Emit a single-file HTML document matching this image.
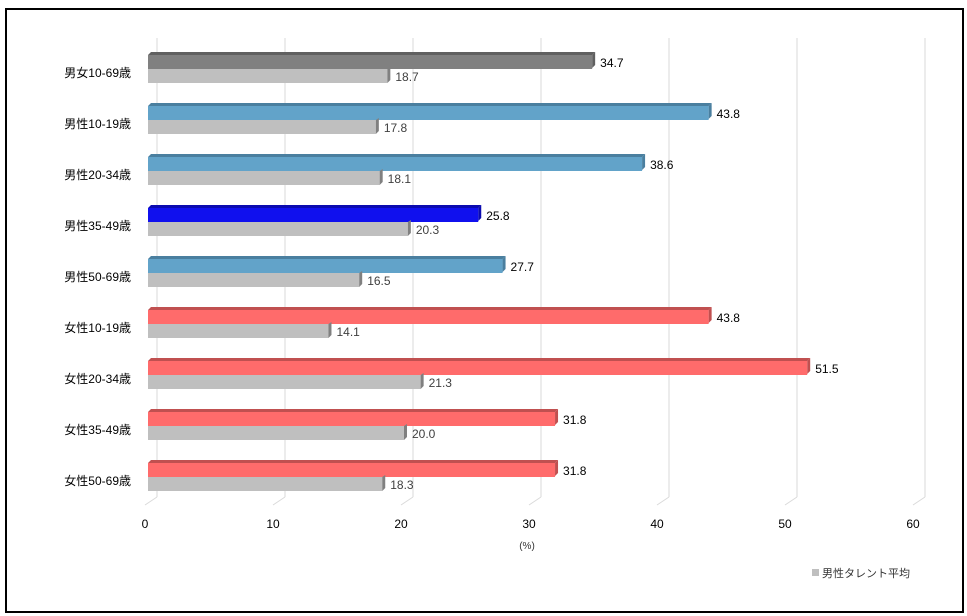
<!DOCTYPE html>
<html><head><meta charset="utf-8"><style>
body{margin:0;background:#fff;font-family:"Liberation Sans","Noto Sans CJK JP",sans-serif;}
#frame{position:absolute;left:5px;top:8px;width:955px;height:601px;border:2px solid #000;box-sizing:content-box;}
</style></head><body>
<div id="frame"></div>
<svg id="chart" width="967" height="616" style="position:absolute;left:0;top:0"></svg>
<script>
const categories=["男女10-69歳","男性10-19歳","男性20-34歳","男性35-49歳","男性50-69歳","女性10-19歳","女性20-34歳","女性35-49歳","女性50-69歳"];
const mainValues=[34.7,43.8,38.6,25.8,27.7,43.8,51.5,31.8,31.8];
const avgValues=[18.7,17.8,18.1,20.3,16.5,14.1,21.3,20.0,18.3];
const mainColors=["#808080","#62a3c9","#62a3c9","#1010ee","#62a3c9","#ff6b6b","#ff6b6b","#ff6b6b","#ff6b6b"];
const capColors=["#606060","#4a7f9f","#4a7f9f","#0a0ab0","#4a7f9f","#c05050","#c05050","#c05050","#c05050"];
const ticks=[0,10,20,30,40,50,60];
const NS="http://www.w3.org/2000/svg";
const svg=document.getElementById('chart');
const x=v=>148+v*12.8;
const rowY=i=>52+i*51;
function mk(t,a,p){const e=document.createElementNS(NS,t);for(const k in a)e.setAttribute(k,a[k]);(p||svg).appendChild(e);return e;}
ticks.forEach(t=>{
 const g=mk('line',{x1:x(t)+9,x2:x(t)+9,y1:38,y2:497,stroke:'#d9d9d9','stroke-width':1});
 
 
 const d=mk('line',{x1:x(t)+9,x2:x(t)-3,y1:497,y2:505,stroke:'#d9d9d9'});
 
 
 const l=mk('text',{x:x(t)-3,y:528,'font-size':12,'text-anchor':'middle',fill:'#000'});
 l.textContent=t;
 
 
});
const xt=mk('text',{x:527,y:549,'font-size':10,'text-anchor':'middle',fill:'#333'});
xt.textContent='(%)';


categories.forEach((c,i)=>{
 const y=rowY(i);
 const cl=mk('text',{x:131,y:y+25,'font-size':12,'text-anchor':'end',fill:'#000'});
 cl.textContent=c;
 
 
 const w=x(mainValues[i])-x(0);
 const cap=mk('polygon',{points:`${x(0)},${y+3} ${x(0)+3},${y} ${x(0)+w+3},${y} ${x(0)+w},${y+3}`,fill:capColors[i]});
 
 
 const side=mk('polygon',{points:`${x(0)+w},${y+3} ${x(0)+w+3},${y} ${x(0)+w+3},${y+13} ${x(0)+w},${y+16}`,fill:capColors[i]});
 
 
 const b=mk('rect',{x:x(0),y:y+3,width:w,height:14,fill:mainColors[i]});
 
 
 const vl=mk('text',{x:x(mainValues[i])+8,y:y+15,'font-size':12,fill:'#000'});
 vl.textContent=mainValues[i].toFixed(1);
 
 
 const w2=x(avgValues[i])-x(0);
 const b2=mk('rect',{x:x(0),y:y+17,width:w2,height:14,fill:'#bfbfbf'});
 
 
 const s2=mk('polygon',{points:`${x(0)+w2},${y+17} ${x(0)+w2+3},${y+15} ${x(0)+w2+3},${y+28} ${x(0)+w2},${y+31}`,fill:'#808080'});
 
 
 const al=mk('text',{x:x(avgValues[i])+8,y:y+29,'font-size':12,fill:'#404040'});
 al.textContent=avgValues[i].toFixed(1);
 
 
});
const lg=mk('rect',{x:812,y:569,width:7,height:7,fill:'#bfbfbf'});


const lt=mk('text',{x:822,y:577,'font-size':11,fill:'#333'});
lt.textContent='男性タレント平均';


</script>
</body></html>
